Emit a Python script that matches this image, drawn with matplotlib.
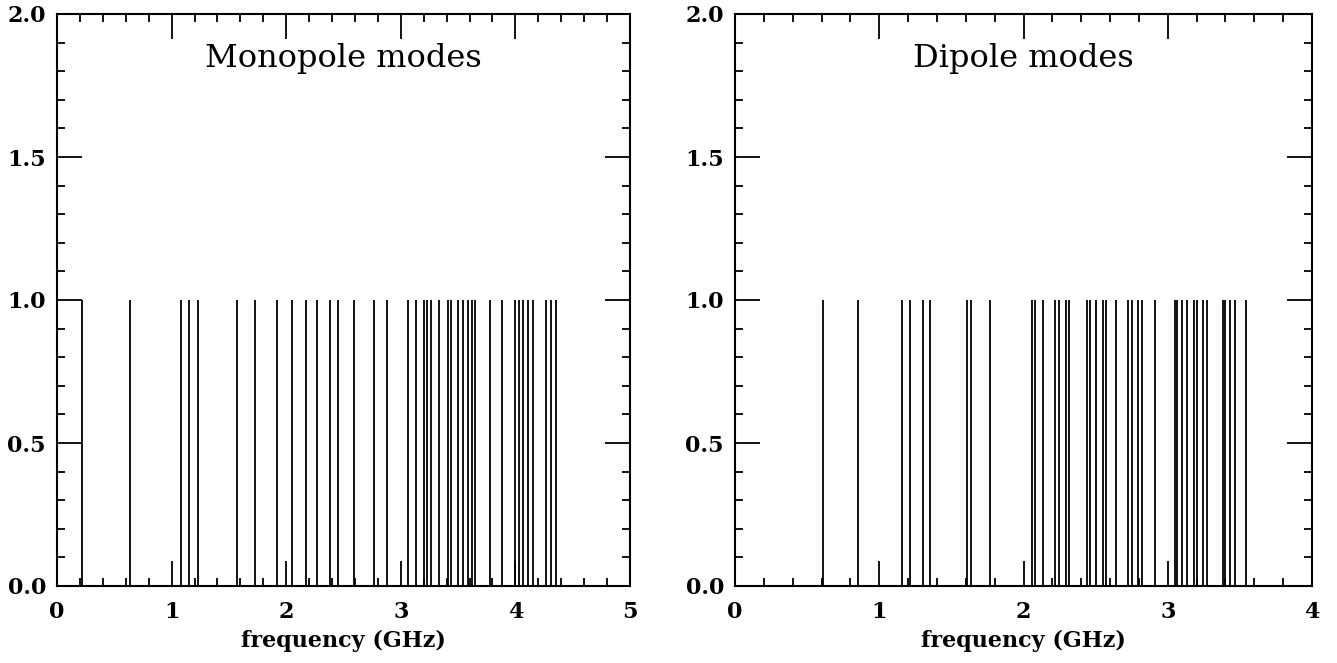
import matplotlib
matplotlib.use("Agg")
import matplotlib.pyplot as plt
from matplotlib.ticker import MultipleLocator, FormatStrFormatter

# Mode frequencies (GHz), each drawn as a unit-height line
monopole_freqs = [0.22, 0.64, 1.08, 1.15, 1.23, 1.57, 1.73, 1.92, 2.05, 2.17,
                  2.27, 2.38, 2.45, 2.59, 2.77, 2.88, 3.06, 3.13, 3.20, 3.23,
                  3.26, 3.33, 3.41, 3.44, 3.50, 3.54, 3.59, 3.62, 3.65, 3.78,
                  3.88, 4.00, 4.03, 4.07, 4.11, 4.15, 4.27, 4.31, 4.35]
dipole_freqs = [0.61, 0.855, 1.16, 1.21, 1.30, 1.35, 1.61, 1.635, 1.77, 2.057,
                2.08, 2.137, 2.218, 2.248, 2.295, 2.315, 2.438, 2.461, 2.503,
                2.553, 2.572, 2.641, 2.727, 2.75, 2.796, 2.819, 2.912, 3.05,
                3.066, 3.097, 3.132, 3.182, 3.20, 3.242, 3.274, 3.38, 3.40,
                3.432, 3.466, 3.54]
panel_titles = ["Monopole modes", "Dipole modes"]
x_limits = [5, 4]
x_label = "frequency (GHz)"

fig = plt.figure(figsize=(13.37, 6.63), dpi=100)
W, H = 1337, 663
boxes = [(57, 14, 630, 586), (735, 14, 1312, 586)]
font = "DejaVu Serif"

for (x0, y0, x1, y1), freqs, title, xmax in zip(boxes, [monopole_freqs, dipole_freqs],
                                                  panel_titles, x_limits):
    ax = fig.add_axes([x0 / W, 1 - y1 / H, (x1 - x0) / W, (y1 - y0) / H])
    ax.vlines(freqs, 0, 1, color="black", linewidth=1.3)
    ax.set_xlim(0, xmax)
    ax.set_ylim(0, 2)
    ax.xaxis.set_major_locator(MultipleLocator(1))
    ax.xaxis.set_minor_locator(MultipleLocator(0.2))
    ax.yaxis.set_major_locator(MultipleLocator(0.5))
    ax.yaxis.set_minor_locator(MultipleLocator(0.1))
    ax.yaxis.set_major_formatter(FormatStrFormatter("%.1f"))
    ax.tick_params(which="both", direction="in", top=True, right=True,
                   width=1.3, labelsize=16)
    ax.tick_params(axis="x", pad=11)
    ax.tick_params(axis="y", pad=8)
    ax.tick_params(which="major", length=18)
    ax.tick_params(which="minor", length=5.5)
    for lab in ax.get_xticklabels() + ax.get_yticklabels():
        lab.set_fontfamily(font)
        lab.set_fontweight("bold")
    for sp in ax.spines.values():
        sp.set_linewidth(1.5)
    ax.set_xlabel(x_label, fontsize=16, family=font, fontweight="bold", labelpad=5)
    ax.text(0.5, 0.923, title, transform=ax.transAxes, ha="center", va="center",
            fontsize=23, family=font)

fig.savefig("out.png", dpi=100)
